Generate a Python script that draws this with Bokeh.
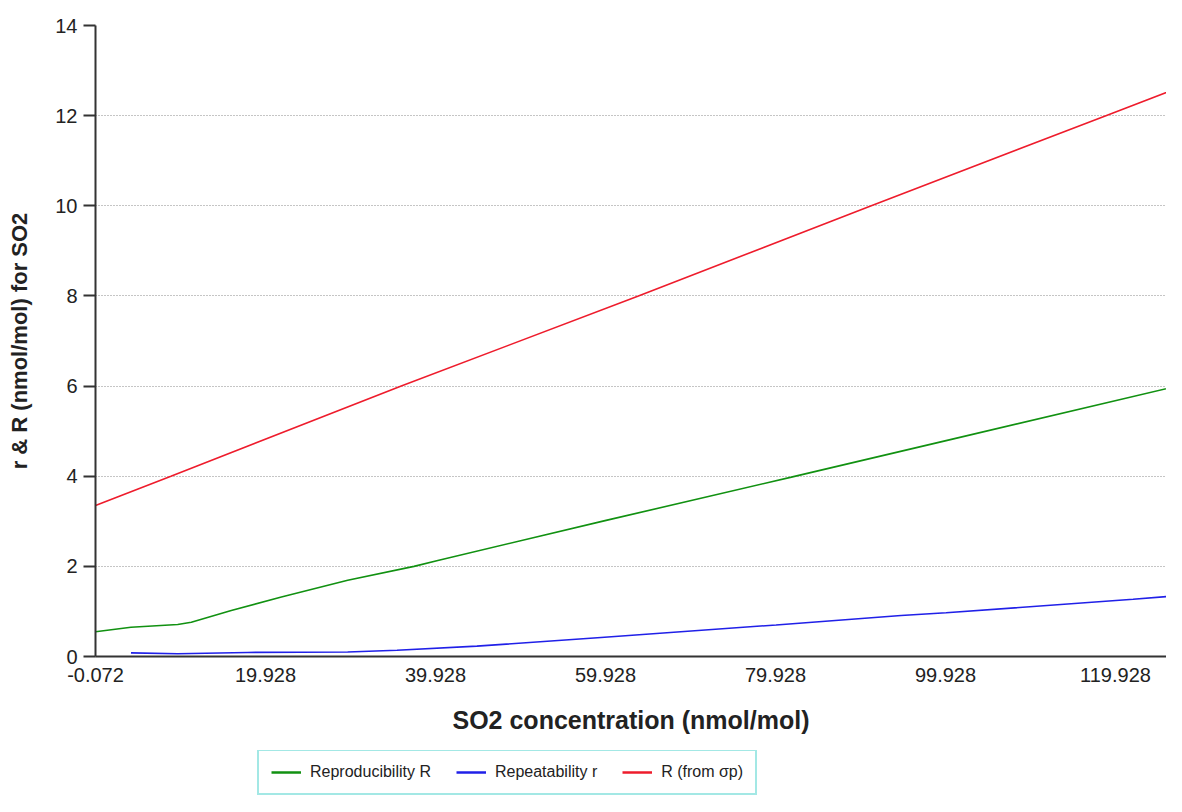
from bokeh.plotting import figure
from bokeh.layouts import column
from bokeh.models import FixedTicker, Legend, LegendItem, Range1d
from bokeh.embed import file_html
from bokeh.resources import INLINE

# ---- data ----
x_ticks = [-0.072, 19.928, 39.928, 59.928, 79.928, 99.928, 119.928]
x_tick_labels = ["-0.072", "19.928", "39.928", "59.928", "79.928", "99.928", "119.928"]
y_ticks = [0, 2, 4, 6, 8, 10, 12, 14]

repro_x = [-0.072, 4.1, 9.6, 11.2, 15.9, 21.8, 29.6, 37.4, 40.2, 60.0, 81.8, 100.0, 127.9]
repro_y = [0.55, 0.65, 0.71, 0.76, 1.02, 1.32, 1.69, 2.00, 2.13, 3.02, 3.98, 4.79, 6.03]

repeat_x = [4.1, 9.6, 17.8, 29.6, 35.4, 44.8, 59.4, 80.0, 94.7, 100.0, 122.0, 127.9]
repeat_y = [0.08, 0.06, 0.09, 0.10, 0.14, 0.23, 0.42, 0.70, 0.91, 0.97, 1.27, 1.36]

rsp_x = [-0.072, 8.8, 35.9, 63.8, 91.2, 118.8, 127.9]
rsp_y = [3.35, 4.0, 6.0, 8.0, 10.0, 12.0, 12.66]

series_x = [repro_x, repeat_x, rsp_x]
series_y = [repro_y, repeat_y, rsp_y]
series_labels = ["Reproducibility R", "Repeatability r", "R (from \u03c3p)"]
series_colors = ["#119111", "#2020e8", "#ee1c2c"]

FONT = "Liberation Sans"

# ---------------- main chart ----------------
p = figure(width=1166, height=750, output_backend="svg", toolbar_location=None,
           x_range=Range1d(-0.072, 125.93), y_range=Range1d(0, 14),
           min_border_left=95, min_border_right=0, min_border_top=25, min_border_bottom=94)

p.outline_line_color = None
p.background_fill_color = "white"
p.border_fill_color = "white"

for xs, ys, c in zip(series_x, series_y, series_colors):
    p.line(xs, ys, line_color=c, line_width=1.6)

xa = p.xaxis[0]
xa.ticker = FixedTicker(ticks=x_ticks)
xa.major_label_overrides = {t: l for t, l in zip(x_ticks, x_tick_labels)}
xa.major_tick_line_color = None
xa.minor_tick_line_color = None
xa.axis_line_color = "#333333"
xa.axis_line_width = 2
xa.major_label_text_font = FONT
xa.major_label_text_font_size = "20px"
xa.major_label_text_color = "#222222"
xa.major_label_standoff = 5
xa.axis_label = "SO2 concentration (nmol/mol)"
xa.axis_label_text_font = FONT
xa.axis_label_text_font_size = "25px"
xa.axis_label_text_font_style = "bold"
xa.axis_label_text_color = "#222222"
xa.axis_label_standoff = 21

ya = p.yaxis[0]
ya.ticker = FixedTicker(ticks=y_ticks)
ya.minor_tick_line_color = None
ya.major_tick_out = 12
ya.major_tick_in = 0
ya.major_tick_line_width = 2
ya.major_tick_line_color = "#333333"
ya.axis_line_color = "#333333"
ya.axis_line_width = 2
ya.major_label_text_font = FONT
ya.major_label_text_font_size = "20px"
ya.major_label_text_color = "#222222"
ya.major_label_standoff = 6
ya.axis_label = "r & R (nmol/mol) for SO2"
ya.axis_label_text_font = FONT
ya.axis_label_text_font_size = "22px"
ya.axis_label_text_font_style = "bold"
ya.axis_label_text_color = "#222222"
ya.axis_label_standoff = 20

p.xgrid.grid_line_color = None
p.ygrid.ticker = FixedTicker(ticks=y_ticks)
p.ygrid.grid_line_color = "#8a8a8a"
p.ygrid.grid_line_dash = "1 2"
p.ygrid.grid_line_width = 1

# ---------------- legend strip ----------------
lg = figure(width=1166, height=46, output_backend="svg", toolbar_location=None,
            x_axis_type=None, y_axis_type=None,
            x_range=Range1d(1000, 1001), y_range=Range1d(1000, 1001),
            min_border=0)
lg.outline_line_color = None
lg.xgrid.visible = False
lg.ygrid.visible = False

items = []
for xs, ys, c, lab in zip(series_x, series_y, series_colors, series_labels):
    r = lg.line(xs, ys, line_color=c, line_width=2.5)
    items.append(LegendItem(label=lab, renderers=[r]))

legend = Legend(items=items, orientation="horizontal", location=(162, 1), margin=0,
                padding=12, spacing=25, label_standoff=9,
                glyph_width=30, glyph_height=16,
                label_text_font=FONT, label_text_font_size="16px",
                label_text_color="#222222",
                border_line_color="#48d1cc", border_line_width=2,
                background_fill_color="white", background_fill_alpha=1.0)
lg.add_layout(legend)

layout = column(p, lg, spacing=0)
open("out.html", "w").write(file_html(layout, INLINE))
